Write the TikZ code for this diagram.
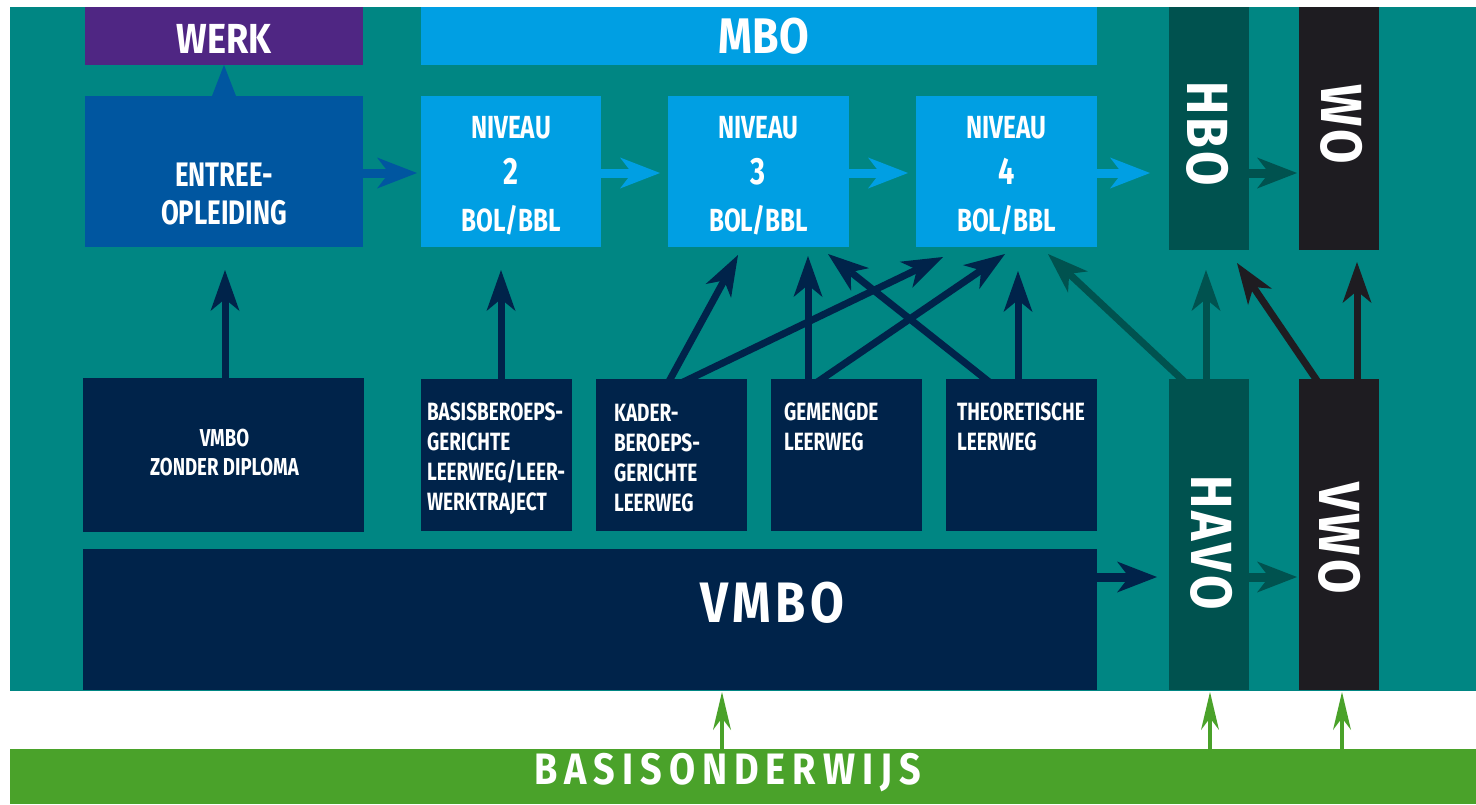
\documentclass[tikz,border=0pt]{standalone}
\usepackage{fontspec}
\setmainfont{Fira Sans}
\newfontfamily\cond{Fira Sans}[FakeStretch=0.76]
\newfontfamily\semi{Fira Sans}[FakeStretch=0.86]
\usetikzlibrary{arrows.meta,calc}
\pgfdeclarelayer{back}
\pgfdeclarelayer{arrows}
\pgfsetlayers{back,arrows,main}
\definecolor{bgteal}{HTML}{008683}
\definecolor{werkpurple}{HTML}{4F2683}
\definecolor{entreeblue}{HTML}{0056A0}
\definecolor{lightblue}{HTML}{009FE3}
\definecolor{navy}{HTML}{00234A}
\definecolor{darkteal}{HTML}{00524F}
\definecolor{nearblack}{HTML}{1E1C21}
\definecolor{basgreen}{HTML}{4AA22A}
\newlength\lsg
\newcommand\gp{\kern\lsg}
\tikzset{
  box/.style={fill=#1, draw=none, inner sep=0pt, outer sep=0pt},
  lbl/.style={text=white, inner sep=0pt, outer sep=0pt, align=center},
  lbll/.style={text=white, inner sep=0pt, outer sep=0pt, align=left, anchor=north west,
     font={\cond\bfseries\fontsize{25pt}{30pt}\selectfont}},
  harr/.style={draw=#1, line width=9pt, -{Stealth[length=40pt,width=31pt,inset=12pt,line width=0pt]}},
  varr/.style={draw=#1, line width=7pt, -{Stealth[length=41pt,width=29pt,inset=12pt,line width=0pt]}},
  garr/.style={draw=basgreen, line width=4pt, -{Stealth[length=38pt,width=18pt,inset=12pt,line width=0pt]}},
  triarr/.style={draw=#1, line width=0.1pt, -{Triangle[length=31pt,width=24pt,line width=0pt]}},
}
\begin{document}
\begin{tikzpicture}[x=1pt,y=-1pt]
\useasboundingbox (0,0) rectangle (1476,804);
\begin{pgfonlayer}{back}
  \fill[white] (0,0) rectangle (1476,804);
  \fill[bgteal] (10,7) rectangle (1476,691);
\end{pgfonlayer}
% boxes
\node[box=werkpurple, minimum width=278pt, minimum height=58pt] (werk) at (224,36) {};
\node[box=lightblue, minimum width=676pt, minimum height=58pt] (mbo) at (759,36) {};
\node[box=darkteal, minimum width=80pt, minimum height=243pt] (hbo) at (1209,128.5) {};
\node[box=nearblack, minimum width=80pt, minimum height=243pt] (wo) at (1339,128.5) {};
\node[box=entreeblue, minimum width=278pt, minimum height=151pt] (entree) at (224,171.5) {};
\node[box=lightblue, minimum width=180pt, minimum height=151pt] (n2) at (511,171.5) {};
\node[box=lightblue, minimum width=181pt, minimum height=151pt] (n3) at (758.5,171.5) {};
\node[box=lightblue, minimum width=181pt, minimum height=151pt] (n4) at (1006.5,171.5) {};
\node[box=navy, minimum width=281pt, minimum height=154pt] (vzd) at (223.5,455) {};
\node[box=navy, minimum width=151pt, minimum height=152pt] (bb) at (496.5,455) {};
\node[box=navy, minimum width=151pt, minimum height=152pt] (kd) at (671.5,455) {};
\node[box=navy, minimum width=151pt, minimum height=152pt] (gm) at (846.5,455) {};
\node[box=navy, minimum width=151pt, minimum height=152pt] (th) at (1021.5,455) {};
\node[box=darkteal, minimum width=80pt, minimum height=311pt] (havo) at (1209,534.5) {};
\node[box=nearblack, minimum width=80pt, minimum height=311pt] (vwo) at (1339,534.5) {};
\node[box=navy, minimum width=1014pt, minimum height=141pt] (vmbo) at (590,619.5) {};
\node[box=basgreen, minimum width=1466pt, minimum height=55pt] (basis) at (743,776.5) {};
% labels
\node[lbl, font={\semi\bfseries\fontsize{42pt}{42pt}\selectfont}] (werkt) at ([yshift=-2.5pt]werk.center) {WERK};
\node[lbl, font={\semi\bfseries\fontsize{50pt}{50pt}\selectfont}] (mbot) at ([xshift=5pt,yshift=-0.5pt]mbo.center) {MBO};
\node[lbl, font={\cond\bfseries\fontsize{34pt}{38pt}\selectfont}] (entreet) at ([yshift=-23pt]entree.center) {ENTREE-\\OPLEIDING};
\node[lbl, font={\cond\bfseries\fontsize{32pt}{46.5pt}\selectfont}] (n2t) at ([yshift=-4pt]n2.center) {NIVEAU\\{\fontsize{38pt}{46.5pt}\selectfont 2}\\BOL/BBL};
\node[lbl, font={\cond\bfseries\fontsize{32pt}{46.5pt}\selectfont}] (n3t) at ([yshift=-4pt]n3.center) {NIVEAU\\{\fontsize{38pt}{46.5pt}\selectfont 3}\\BOL/BBL};
\node[lbl, font={\cond\bfseries\fontsize{32pt}{46.5pt}\selectfont}] (n4t) at ([yshift=-4pt]n4.center) {NIVEAU\\{\fontsize{38pt}{46.5pt}\selectfont 4}\\BOL/BBL};
\node[lbl, font={\cond\bfseries\fontsize{24.5pt}{29pt}\selectfont}] (vzdt) at ([xshift=1pt,yshift=2pt]vzd.center) {VMBO\\ZONDER DIPLOMA};
\node[lbll] (bbt) at ([xshift=6pt,yshift=-24pt]bb.north west) {BASISBEROEPS-\\GERICHTE\\LEERWEG/LEER-\\WERKTRAJECT};
\node[lbll] (kdt) at ([xshift=18pt,yshift=-25pt]kd.north west) {KADER-\\BEROEPS-\\GERICHTE\\LEERWEG};
\node[lbll] (gmt) at ([xshift=13pt,yshift=-24pt]gm.north west) {GEMENGDE\\LEERWEG};
\node[lbll] (tht) at ([xshift=11pt,yshift=-24pt]th.north west) {THEORETISCHE\\LEERWEG};
\node[lbl, rotate=-90, font={\semi\bfseries\fontsize{58pt}{58pt}\selectfont}] (hbot) at ([xshift=-1pt,yshift=-5.5pt]hbo.center) {\setlength\lsg{3pt}H\gp B\gp O};
\node[lbl, rotate=-90, font={\semi\bfseries\fontsize{58pt}{58pt}\selectfont}] (wot) at ([xshift=3pt,yshift=4.5pt]wo.center) {\setlength\lsg{3pt}W\gp O};
\node[lbl, rotate=-90, font={\semi\bfseries\fontsize{58pt}{58pt}\selectfont}] (havot) at ([xshift=3pt,yshift=-8pt]havo.center) {\setlength\lsg{3pt}H\gp A\gp V\gp O};
\node[lbl, rotate=-90, font={\semi\bfseries\fontsize{58pt}{58pt}\selectfont}] (vwot) at ([xshift=1pt,yshift=-3.5pt]vwo.center) {\setlength\lsg{3pt}V\gp W\gp O};
\node[lbl, font={\semi\bfseries\fontsize{57pt}{57pt}\selectfont}] (vmbot) at ([xshift=182.5pt,yshift=17pt]vmbo.center) {\setlength\lsg{4.5pt}V\gp M\gp B\gp O};
\node[lbl, font={\semi\bfseries\fontsize{44pt}{44pt}\selectfont}] (basist) at ([xshift=-15.5pt,yshift=3.5pt]basis.center) {\setlength\lsg{7pt}B\gp A\gp S\gp I\gp S\gp O\gp N\gp D\gp E\gp R\gp W\gp I\gp J\gp S};
% connectors
\begin{pgfonlayer}{arrows}
  \draw[triarr=entreeblue] ([yshift=-2pt]entree.north) -- (werk.south);
  \draw[harr=entreeblue] ([xshift=-4pt,yshift=-1.5pt]entree.east) -- ([xshift=-4pt,yshift=-1.5pt]n2.west);
  \draw[harr=lightblue] ([xshift=-4pt,yshift=-1.5pt]n2.east) -- ([xshift=-8pt,yshift=-1.5pt]n3.west);
  \draw[harr=lightblue] ([xshift=-4pt,yshift=-1.5pt]n3.east) -- ([xshift=-8pt,yshift=-1.5pt]n4.west);
  \draw[harr=lightblue] ([xshift=-4pt,yshift=-1.5pt]n4.east) -- ([xshift=-19pt,yshift=-44.5pt]hbo.west);
  \draw[harr=darkteal] ([xshift=-4pt,yshift=-44.5pt]hbo.east) -- ([xshift=-2pt,yshift=-44.5pt]wo.west);
  \draw[varr=navy] ([xshift=142pt,yshift=-6pt]vzd.north west) -- ([xshift=140pt,yshift=-23pt]entree.south west);
  \draw[varr=navy] ([xshift=80pt,yshift=-6pt]bb.north west) -- ([xshift=80pt,yshift=-23pt]n2.south west);
  \draw[varr=navy] ([xshift=71pt,yshift=-6pt]kd.north west) -- ([xshift=70pt,yshift=-8pt]n3.south west);
  \draw[varr=navy] ([xshift=81pt,yshift=-6pt]kd.north west) -- ([xshift=27pt,yshift=-10pt]n4.south west);
  \draw[varr=navy] ([xshift=37pt,yshift=-6pt]gm.north west) -- ([xshift=140pt,yshift=-9pt]n3.south west);
  \draw[varr=navy] ([xshift=42pt,yshift=-6pt]gm.north west) -- ([xshift=89pt,yshift=-7pt]n4.south west);
  \draw[varr=navy] ([xshift=47pt,yshift=-6pt]th.north west) -- ([xshift=160pt,yshift=-7pt]n3.south west);
  \draw[varr=navy] ([xshift=72pt,yshift=-6pt]th.north west) -- ([xshift=102pt,yshift=-24pt]n4.south west);
  \draw[varr=darkteal] ([xshift=19pt,yshift=-6pt]havo.north west) -- ([xshift=132pt,yshift=-7pt]n4.south west);
  \draw[varr=darkteal] ([xshift=37pt,yshift=-6pt]havo.north west) -- ([xshift=37pt,yshift=-20pt]hbo.south west);
  \draw[varr=nearblack] ([xshift=21pt,yshift=-6pt]vwo.north west) -- ([xshift=68pt,yshift=-13pt]hbo.south west);
  \draw[varr=nearblack] ([xshift=58pt,yshift=-6pt]vwo.north west) -- ([xshift=58pt,yshift=-12pt]wo.south west);
  \draw[harr=navy] ([xshift=-4pt,yshift=42.5pt]vmbo.east) -- ([xshift=-12pt,yshift=-42.5pt]havo.west);
  \draw[harr=darkteal] ([xshift=-4pt,yshift=-42.5pt]havo.east) -- ([xshift=-2pt,yshift=-42.5pt]vwo.west);
  \draw[garr] ([xshift=712pt,yshift=-2pt]basis.north west) -- ([xshift=639pt,yshift=-2pt]vmbo.south west);
  \draw[garr] ([xshift=1200pt,yshift=-2pt]basis.north west) -- ([xshift=1pt,yshift=-2pt]havo.south);
  \draw[garr] ([xshift=1332pt,yshift=-2pt]basis.north west) -- ([xshift=3pt,yshift=-2pt]vwo.south);
\end{pgfonlayer}
\end{tikzpicture}
\end{document}
